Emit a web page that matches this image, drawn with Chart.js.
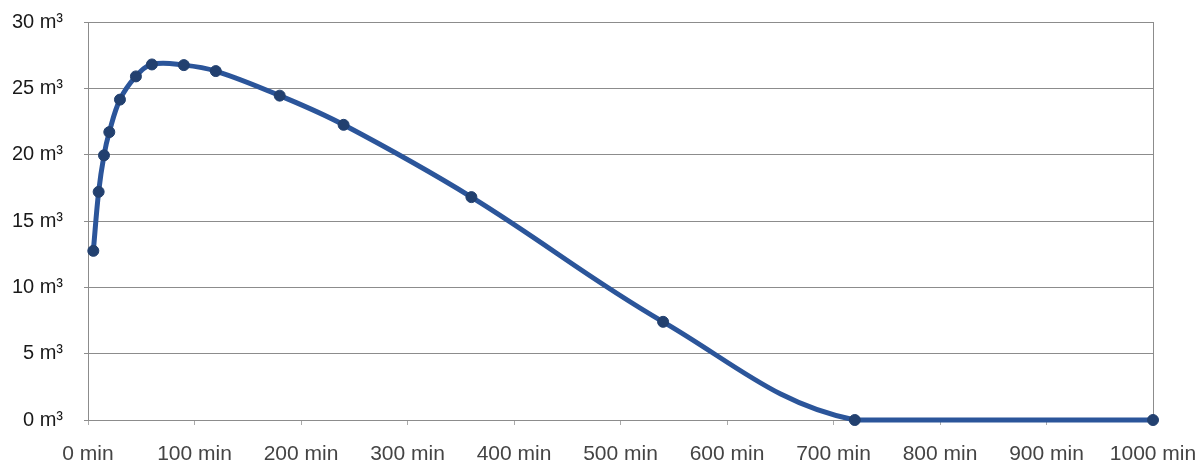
<!DOCTYPE html>
<html>
<head>
<meta charset="utf-8">
<script src="https://cdn.jsdelivr.net/npm/chart.js@4/dist/chart.umd.min.js"></script>
<style>
  html, body { margin: 0; padding: 0; background: #fff; }
  #wrap { width: 1201px; height: 466px; position: relative; }
</style>
</head>
<body>
<div id="wrap"><canvas id="c"></canvas></div>
<script>
// Elapsed time (minutes) and stored volume (m³)
const timeMin = [5, 10, 15, 20, 30, 45, 60, 90, 120, 180, 240, 360, 540, 720, 1000];
const volumeM3 = [12.75, 17.2, 19.95, 21.7, 24.15, 25.9, 26.8, 26.75, 26.3, 24.45, 22.25, 16.8, 7.4, 0, 0];

// Axis tick values
const xTicks = [0, 100, 200, 300, 400, 500, 600, 700, 800, 900, 1000];
const yTicks = [0, 5, 10, 15, 20, 25, 30];

const points = timeMin.map((t, i) => ({ x: t, y: volumeM3[i] }));

const gridGray = '#8c8c8c';

new Chart(document.getElementById('c'), {
  type: 'line',
  data: {
    datasets: [{
      data: points,
      borderColor: '#2b559a',
      borderWidth: 5,
      tension: 0.38,
      pointRadius: 5.5,
      pointBackgroundColor: '#22406f',
      pointBorderColor: '#22406f',
      pointBorderWidth: 1,
      clip: 7
    }]
  },
  options: {
    responsive: true,
    maintainAspectRatio: false,
    animation: false,
    layout: { padding: { top: 22, right: 48, left: 0, bottom: 0 } },
    plugins: { legend: { display: false }, tooltip: { enabled: false } },
    scales: {
      x: {
        type: 'linear',
        min: 0,
        max: 1000,
        afterBuildTicks: (s) => { s.ticks = xTicks.map(v => ({ value: v })); },
        // fixed axis band; edge labels may hang into the outer margins
        afterFit: (s) => { s.height = 46; s.paddingLeft = 0; s.paddingRight = 0; },
        border: { display: true, color: gridGray, width: 1 },
        grid: {
          drawOnChartArea: true,
          color: (ctx) => (ctx.index === xTicks.length - 1 ? gridGray : 'rgba(0,0,0,0)'),
          tickColor: '#aaaaaa',
          tickLength: 5
        },
        ticks: {
          padding: 17,
          color: '#444',
          font: { family: '"Liberation Sans", Arial, sans-serif', size: 21 },
          maxRotation: 0,
          callback: (v) => v + ' min'
        }
      },
      y: {
        min: 0,
        max: 30,
        afterBuildTicks: (s) => { s.ticks = yTicks.map(v => ({ value: v })); },
        afterFit: (s) => { s.width = 88; s.paddingTop = 0; s.paddingBottom = 0; },
        border: { display: true, color: gridGray, width: 1 },
        grid: {
          color: gridGray,
          tickColor: gridGray,
          tickLength: 4
        },
        ticks: {
          padding: 21,
          color: '#1a1a1a',
          font: { family: '"Liberation Sans", Arial, sans-serif', size: 20 },
          callback: (v) => v + ' m³'
        }
      }
    }
  }
});
</script>
</body>
</html>
